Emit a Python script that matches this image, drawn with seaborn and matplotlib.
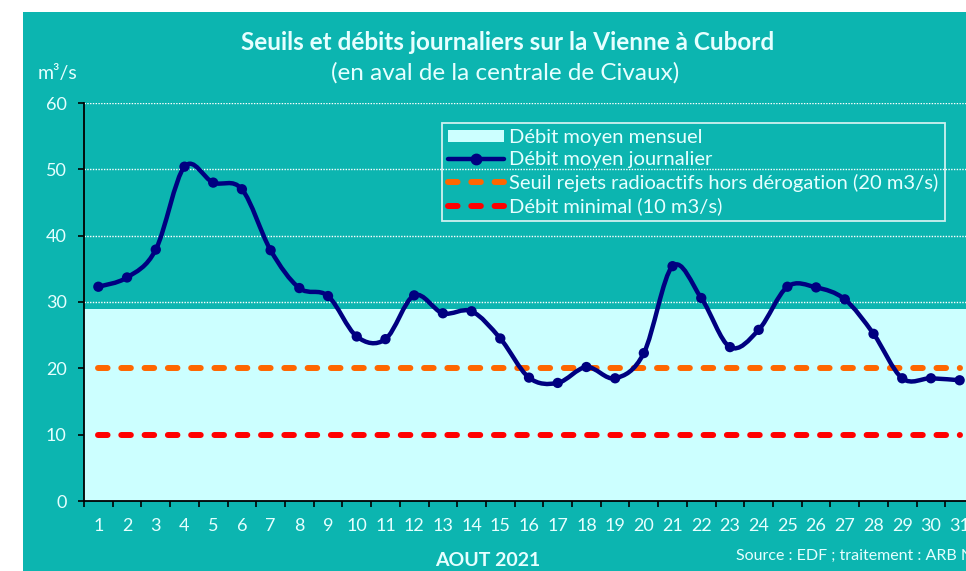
import numpy as np
import matplotlib
matplotlib.use("Agg")
import matplotlib.pyplot as plt
from matplotlib.path import Path
from matplotlib.patches import PathPatch, Rectangle, Patch
from matplotlib.lines import Line2D
import seaborn as sns

# ---- data ----
days = list(range(1, 32))
debit_journalier = [32.3, 33.7, 37.9, 50.4, 48.0, 47.0, 37.8, 32.1, 30.9, 24.8,
                    24.4, 31.0, 28.3, 28.6, 24.5, 18.6, 17.8, 20.2, 18.5, 22.3,
                    35.4, 30.6, 23.2, 25.8, 32.3, 32.2, 30.4, 25.2, 18.5, 18.5, 18.2]
debit_moyen_mensuel = 28.9
seuil_rejets = [20] * 31
debit_minimal = [10] * 31
yticks = [0, 10, 20, 30, 40, 50, 60]

title = "Seuils et débits journaliers sur la Vienne à Cubord"
subtitle = "(en aval de la centrale de Civaux)"
unit = "m³/s"
xlabel = "AOUT 2021"
source = "Source : EDF ; traitement : ARB NA"
legend_labels = ["Débit moyen mensuel", "Débit moyen journalier",
                 "Seuil rejets radioactifs hors dérogation (20 m3/s)",
                 "Débit minimal (10 m3/s)"]

# ---- style ----
TEAL = "#0CB5B0"
LIGHT = "#CCFFFF"
NAVY = "#000080"
ORANGE = "#FF6600"
RED = "#FF0000"
TXT = "#E6FFFF"

sns.set_style("ticks")
plt.rcParams["font.family"] = ["Lato", "DejaVu Sans"]

W, H = 966, 571
fig = plt.figure(figsize=(W / 100, H / 100), dpi=100)
fig.patch.set_facecolor("white")
fig.add_artist(Rectangle((23 / W, 0), 1, (H - 12) / H, transform=fig.transFigure,
                         facecolor=TEAL, edgecolor="none", zorder=0))

ax = fig.add_axes([84 / W, 70 / H, 890 / W, 398 / H])
ax.patch.set_visible(False)
ax.set_xlim(0.5, 31.5)
ax.set_ylim(0, 60)

# grid
ax.set_axisbelow(True)
ax.yaxis.grid(True, color="white", linestyle=(0, (1, 1)), linewidth=1.0)
ax.xaxis.grid(False)

# monthly mean band
ax.axhspan(0, debit_moyen_mensuel, color=LIGHT, zorder=1, lw=0)

# thresholds
sns.lineplot(x=days, y=seuil_rejets, ax=ax, color=ORANGE, linewidth=4.3,
             linestyle=(0, (1.6, 2.3)), dash_capstyle="round", zorder=2)
sns.lineplot(x=days, y=debit_minimal, ax=ax, color=RED, linewidth=4.3,
             linestyle=(0, (1.6, 2.3)), dash_capstyle="round", zorder=2)

# smoothed daily line (Bezier through data points)
pts = np.column_stack([days, debit_journalier]).astype(float)
n = len(pts)
verts = [pts[0]]
codes = [Path.MOVETO]
for i in range(n - 1):
    p0 = pts[max(i - 1, 0)]
    p1 = pts[i]
    p2 = pts[i + 1]
    p3 = pts[min(i + 2, n - 1)]
    c1 = p1 + (p2 - p0) / 6.0
    c2 = p2 - (p3 - p1) / 6.0
    verts += [c1, c2, p2]
    codes += [Path.CURVE4] * 3
ax.add_patch(PathPatch(Path(verts, codes), facecolor="none", edgecolor=NAVY,
                       linewidth=3.2, zorder=3, capstyle="round", joinstyle="round"))
sns.scatterplot(x=days, y=debit_journalier, ax=ax, color=NAVY, s=55,
                edgecolor="none", zorder=4, legend=False)

# spines & ticks
for s in ["top", "right"]:
    ax.spines[s].set_visible(False)
for s in ["left", "bottom"]:
    ax.spines[s].set_color("black")
    ax.spines[s].set_linewidth(1.3)
    ax.spines[s].set_zorder(5)

ax.set_yticks(yticks)
ax.tick_params(axis="y", direction="out", length=4.5, width=1.2, color="black",
               labelcolor=TXT, labelsize=13, pad=8)
ax.set_xticks(np.arange(0.5, 31.6, 1.0))
ax.set_xticklabels([])
ax.set_xticks(days, minor=True)
ax.set_xticklabels([str(d) for d in days], minor=True)
ax.tick_params(axis="x", which="major", direction="out", length=4.5, width=1.2,
               color="black")
ax.tick_params(axis="x", which="minor", length=0, labelcolor=TXT,
               labelsize=13, pad=12)
ax.set_xlabel("")
ax.set_ylabel("")

# texts
fig.text(508 / W, 1 - 43 / H, title, ha="center", va="center", fontsize=17.5,
         fontweight="bold", color=TXT)
fig.text(505 / W, 1 - 73 / H, subtitle, ha="center", va="center", fontsize=17.5,
         color=TXT)
fig.text(38 / W, 1 - 74 / H, unit, ha="left", va="center", fontsize=14, color=TXT)
fig.text(488 / W, 1 - 560 / H, xlabel, ha="center", va="center", fontsize=14,
         fontweight="bold", color=TXT)
fig.text(736 / W, 1 - 556 / H, source, ha="left", va="center", fontsize=11.5,
         color=TXT)

# legend
handles = [
    Patch(facecolor=LIGHT, edgecolor="none"),
    Line2D([], [], color=NAVY, linewidth=3.2, marker="o", markersize=7.5),
    Line2D([], [], color=ORANGE, linewidth=4.3, linestyle=(0, (1.6, 2.3)),
           dash_capstyle="round"),
    Line2D([], [], color=RED, linewidth=4.3, linestyle=(0, (1.6, 2.3)),
           dash_capstyle="round"),
]
leg = fig.legend(handles, legend_labels, loc="upper left",
                 bbox_to_anchor=(442 / W, 1 - 123 / H), bbox_transform=fig.transFigure,
                 borderaxespad=0, frameon=True, fancybox=False, fontsize=14.5,
                 handlelength=2.8, handleheight=0.55, handletextpad=0.25,
                 labelspacing=0.27, borderpad=0.3, labelcolor=TXT)
leg.get_frame().set_facecolor("none")
leg.get_frame().set_edgecolor("white")
leg.get_frame().set_linewidth(1.3)

fig.savefig("out.png", dpi=100)
